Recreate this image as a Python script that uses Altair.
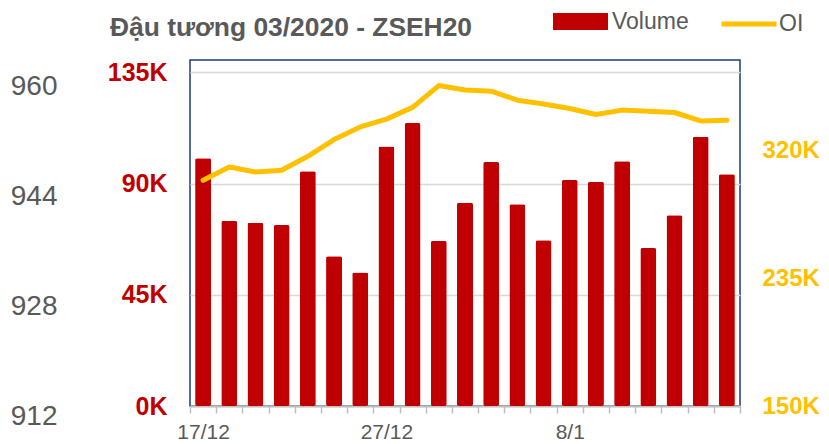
import altair as alt
import pandas as pd

dates = ["17/12", "18/12", "19/12", "20/12", "23/12", "24/12", "26/12", "27/12",
         "30/12", "31/12", "2/1", "3/1", "6/1", "7/1", "8/1", "9/1", "10/1",
         "13/1", "14/1", "15/1", "16/1"]
volume = [100200, 74900, 74100, 73200, 95000, 60600, 54000, 105000, 114500,
          66800, 82200, 98700, 81600, 67100, 91400, 90700, 99000, 63900,
          77200, 108900, 93800]
oi = [300000, 308900, 305500, 306700, 316000, 327100, 335500, 340700, 348500,
      363000, 360000, 359300, 353300, 350700, 347800, 343800, 346700, 346000,
      345100, 339500, 340000]
shown_dates = ["17/12", "27/12", "8/1"]
vol_ticks = [0, 45000, 90000, 135000]
oi_ticks = [150000, 235000, 320000]
price_ticks = [912, 928, 944, 960]

FONT = "Liberation Sans"
GRAY = "#595959"

df = pd.DataFrame({"date": dates, "Volume": volume, "OI": oi,
                   "s1": ["Volume"] * len(dates), "s2": ["OI"] * len(dates)})
price_df = pd.DataFrame({"price": price_ticks})

shown_js = "[" + ",".join("'%s'" % d for d in shown_dates) + "]"
x = alt.X("date:N", sort=dates,
          scale=alt.Scale(paddingInner=0, paddingOuter=0),
          axis=alt.Axis(title=None, labelAngle=0,
                        labelExpr="indexof(%s, datum.value) >= 0 ? datum.value : ''" % shown_js,
                        labelColor=GRAY, labelFontSize=21, labelFont=FONT,
                        labelPadding=8, tickBand="extent", tickSize=7,
                        tickColor="#BFBFBF", tickWidth=1.5,
                        domainColor="#BFBFBF", domainWidth=2))

bars = alt.Chart(df).mark_bar(size=16, cornerRadius=2, color="#C00000").encode(
    x=x,
    y=alt.Y("Volume:Q", scale=alt.Scale(domain=[0, 140000], nice=False),
            axis=alt.Axis(orient="left", values=vol_ticks, title=None,
                          labelExpr="(datum.value/1000) + 'K'",
                          ticks=False, domain=False, grid=True,
                          gridColor="#D9D9D9", gridWidth=1.5,
                          labelColor="#C00000", labelFontSize=25,
                          labelFontWeight="bold", labelFont=FONT,
                          labelPadding=23)),
    color=alt.Color("s1:N", scale=alt.Scale(domain=["Volume"], range=["#C00000"]),
                    legend=alt.Legend(title=None, orient="none", legendX=363, legendY=-66,
                                      symbolType="M-1,-0.31H1V0.31H-1Z", symbolSize=3025,
                                      symbolStrokeWidth=0, labelFontSize=23,
                                      labelColor=GRAY, labelFont=FONT, labelOffset=4,
                                      padding=0)),
)

line = alt.Chart(df).mark_line(strokeWidth=5, strokeCap="round", strokeJoin="round").encode(
    x=x,
    y=alt.Y("OI:Q", scale=alt.Scale(domain=[150000, 380000], nice=False, zero=False),
            axis=alt.Axis(orient="right", values=oi_ticks, title=None,
                          labelExpr="(datum.value/1000) + 'K'",
                          ticks=False, domain=False, grid=False,
                          labelColor="#FFC000", labelFontSize=24,
                          labelFontWeight="bold", labelFont=FONT,
                          labelPadding=22)),
    stroke=alt.Stroke("s2:N", scale=alt.Scale(domain=["OI"], range=["#FFC000"]),
                      legend=alt.Legend(title=None, orient="none", legendX=529, legendY=-66,
                                        symbolType="stroke", symbolSize=3025,
                                        symbolStrokeWidth=5, labelFontSize=23,
                                        labelColor=GRAY, labelFont=FONT, labelOffset=0,
                                        padding=0)),
)

price = alt.Chart(price_df).mark_point(opacity=0).encode(
    y=alt.Y("price:Q", scale=alt.Scale(domain=[912, 960], range=[356, 26], nice=False, zero=False),
            axis=alt.Axis(orient="left", values=price_ticks, title=None, format="d",
                          ticks=False, domain=False, grid=False,
                          labelColor=GRAY, labelFontSize=28, labelFont=FONT,
                          labelPadding=0, offset=133)),
)

chart = alt.layer(bars, line, price).resolve_scale(
    y="independent", color="independent", stroke="independent"
).properties(
    width=550, height=346,
    title=alt.TitleParams(text="Đậu tương 03/2020 - ZSEH20", anchor="start", frame="group",
                          dx=-80, dy=91, offset=23, baseline="alphabetic", fontSize=26.4,
                          fontWeight="bold", color=GRAY, font=FONT),
    autosize=alt.AutoSizeParams(type="none"),
    padding={"left": 182, "top": 52, "right": 81, "bottom": 36},
).configure_view(stroke="#1F3A7A", strokeWidth=1.5)

chart.save("out.html", embed_options={"renderer": "svg", "actions": False})
